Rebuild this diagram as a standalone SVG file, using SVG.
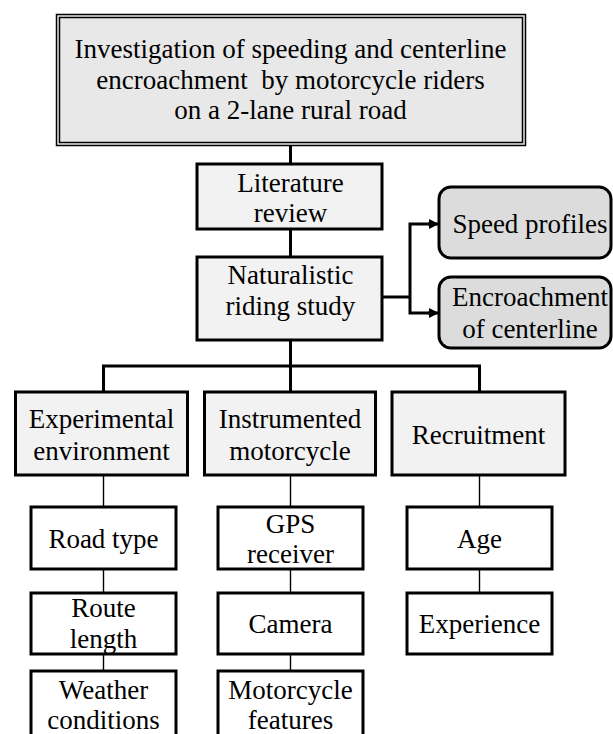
<svg xmlns="http://www.w3.org/2000/svg" width="613" height="734" viewBox="0 0 613 734" font-family="Liberation Serif, Times New Roman, serif">
<style>
text{font-family:"Liberation Serif","Times New Roman","DejaVu Serif",serif;font-size:27px;fill:#000;text-anchor:middle}
.box{stroke:#000;stroke-width:3}
.l1{fill:#f2f2f2}
.l2{fill:#ffffff}
.out{fill:#dcdcdc}
.thick{stroke:#000;stroke-width:3;fill:none}
.thin{stroke:#000;stroke-width:1.4;fill:none}
</style>
<defs>
<marker id="arr" markerWidth="10" markerHeight="10" refX="9" refY="5" orient="auto" markerUnits="userSpaceOnUse">
<path d="M0,0 L10,5 L0,10 Z" fill="#000"/>
</marker>
</defs>
<g id="connectors">
<line class="thick" x1="290.5" y1="145" x2="290.5" y2="164"/>
<line class="thick" x1="290.5" y1="229" x2="290.5" y2="257"/>
<line class="thick" x1="290.5" y1="340" x2="290.5" y2="366"/>
<polyline class="thick" points="103.5,392 103.5,366 479.5,366 479.5,392"/>
<line class="thick" x1="290.5" y1="366" x2="290.5" y2="392"/>
<line class="thick" x1="382" y1="297" x2="410" y2="297"/>
<polyline class="thick" points="430,224 410,224 410,313 430,313"/>
<line class="thick" x1="428" y1="224" x2="438" y2="224" marker-end="url(#arr)"/>
<line class="thick" x1="428" y1="313" x2="438" y2="313" marker-end="url(#arr)"/>
<line class="thin" x1="103.5" y1="475" x2="103.5" y2="507"/>
<line class="thin" x1="103.5" y1="569" x2="103.5" y2="593"/>
<line class="thin" x1="103.5" y1="654" x2="103.5" y2="671"/>
<line class="thin" x1="290.5" y1="475" x2="290.5" y2="507"/>
<line class="thin" x1="290.5" y1="569" x2="290.5" y2="593"/>
<line class="thin" x1="290.5" y1="654" x2="290.5" y2="671"/>
<line class="thin" x1="479.5" y1="475" x2="479.5" y2="507"/>
<line class="thin" x1="479.5" y1="569" x2="479.5" y2="593"/>
</g>
<g id="title">
<rect x="56.5" y="14.5" width="469" height="131" fill="#e8e8e8" stroke="#000" stroke-width="1.5"/>
<rect x="59.5" y="17.5" width="463" height="125" fill="none" stroke="#000" stroke-width="1.5"/>
<text x="290.5" y="57.5">Investigation of speeding and centerline</text>
<text x="290.5" y="88.5" style="white-space:pre">encroachment  by motorcycle riders</text>
<text x="290.5" y="119">on a 2-lane rural road</text>
</g>
<g id="literature">
<rect class="box l1" x="197" y="164" width="185" height="65"/>
<text x="290.5" y="191.5">Literature</text>
<text x="290.5" y="221.5">review</text>
</g>
<g id="naturalistic">
<rect class="box l1" x="197" y="257" width="185" height="83"/>
<text x="290.5" y="284">Naturalistic</text>
<text x="290.5" y="315">riding study</text>
</g>
<g id="speed">
<rect class="box out" x="439" y="187" width="172" height="71" rx="12"/>
<text x="530" y="233">Speed profiles</text>
</g>
<g id="encroachment">
<rect class="box out" x="439" y="277" width="172" height="71" rx="12"/>
<text x="530" y="306">Encroachment</text>
<text x="530" y="338">of centerline</text>
</g>
<g id="experimental">
<rect class="box l1" x="15.5" y="392" width="172" height="83"/>
<text x="101.5" y="428">Experimental</text>
<text x="101.5" y="459.5">environment</text>
</g>
<g id="instrumented">
<rect class="box l1" x="204.5" y="392" width="171" height="83"/>
<text x="290" y="428">Instrumented</text>
<text x="290" y="459.5">motorcycle</text>
</g>
<g id="recruitment">
<rect class="box l1" x="392" y="392" width="173" height="83"/>
<text x="478.5" y="443.5">Recruitment</text>
</g>
<g id="roadtype">
<rect class="box l2" x="31" y="507" width="145" height="62"/>
<text x="103.5" y="547.5">Road type</text>
</g>
<g id="gps">
<rect class="box l2" x="218" y="507" width="145" height="62"/>
<text x="290.5" y="533">GPS</text>
<text x="290.5" y="563">receiver</text>
</g>
<g id="age">
<rect class="box l2" x="407" y="507" width="145" height="62"/>
<text x="479.5" y="547.5">Age</text>
</g>
<g id="route">
<rect class="box l2" x="31" y="593" width="145" height="61"/>
<text x="103.5" y="617">Route</text>
<text x="103.5" y="648">length</text>
</g>
<g id="camera">
<rect class="box l2" x="218" y="593" width="145" height="61"/>
<text x="290.5" y="633">Camera</text>
</g>
<g id="experience">
<rect class="box l2" x="407" y="593" width="145" height="61"/>
<text x="479.5" y="633">Experience</text>
</g>
<g id="weather">
<rect class="box l2" x="31" y="671" width="145" height="70"/>
<text x="103.5" y="698.5">Weather</text>
<text x="103.5" y="728.5">conditions</text>
</g>
<g id="motorcycle-features">
<rect class="box l2" x="218" y="671" width="145" height="70"/>
<text x="290.5" y="698.5">Motorcycle</text>
<text x="290.5" y="728.5">features</text>
</g>
</svg>
